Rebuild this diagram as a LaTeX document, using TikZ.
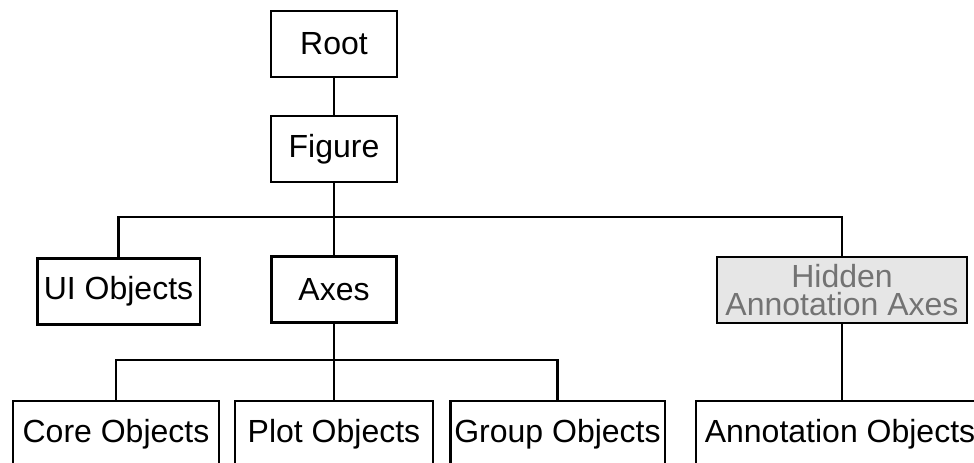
\documentclass[tikz,border=0pt]{standalone}
\usepackage{fontspec}
\setmainfont{Liberation Sans}
\definecolor{hidfill}{HTML}{E6E6E6}
\definecolor{hidtext}{HTML}{737373}
\begin{document}
\begin{tikzpicture}[x=0.75pt,y=-0.75pt,
    box/.style={draw,line width=2pt,inner sep=0pt,minimum height=49.5pt,
      font=\fontsize{24}{26}\selectfont},
    hidbox/.style={box,fill=hidfill,text=hidtext,align=center,
      font=\fontsize{24}{20.5}\selectfont}]
      \useasboundingbox (0,0) rectangle (974,463);
      \draw
        (334,44) node[box,minimum width=94.5pt] (root){Root}
        (334,149) node[box,minimum width=94.5pt] (fig){Figure}
        (118.5,291.5) node[box,minimum width=122pt] (ui){UI Objects}
        (334,289.5) node[box,minimum width=94pt] (axes){Axes}
        (842,290) node[hidbox,minimum width=187.5pt] (hid){Hidden\\Annotation Axes}
        (116,434) node[box,minimum width=154.5pt] (core){Core Objects}
        (334,434) node[box,minimum width=148.5pt] (plot){Plot Objects}
        (557.5,434) node[box,minimum width=161pt] (grp){Group Objects}
        (840,434) node[box,minimum width=216pt] (annot){Annotation Objects};
      \coordinate (bus1) at (334,217);
      \coordinate (bus2) at (334,360);
      \begin{scope}[line width=2.2pt]
        \draw (root) to (fig);
        \draw (fig.south) to (bus1);
        \draw (ui.north) |- (bus1);
        \draw (axes.north) to (bus1);
        \draw (hid.north) |- (bus1);
        \draw (axes.south) to (bus2);
        \draw (core.north) |- (bus2);
        \draw (plot.north) to (bus2);
        \draw (grp.north) |- (bus2);
        \draw (hid.south) to (hid.south |- annot.north);
      \end{scope}
    \end{tikzpicture}
\end{document}
